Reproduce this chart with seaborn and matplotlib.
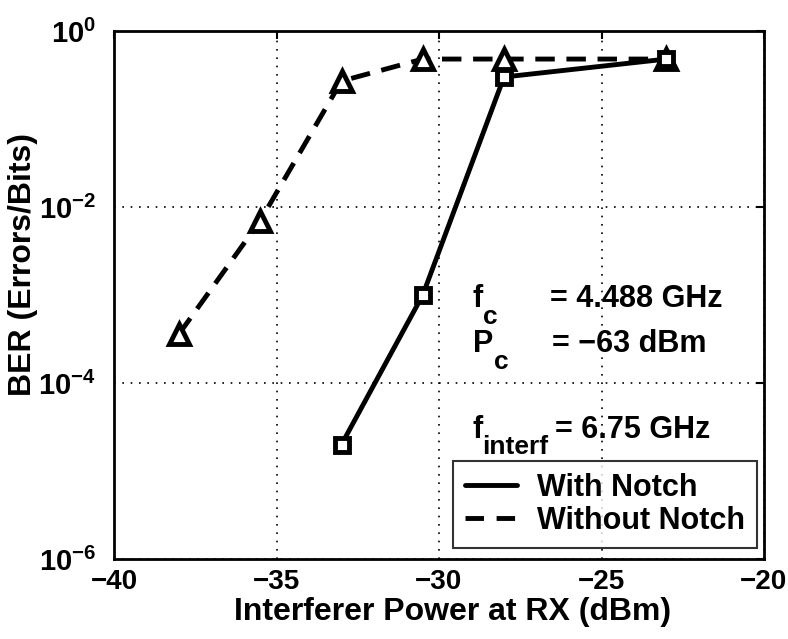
import matplotlib
matplotlib.use("Agg")
import matplotlib.pyplot as plt
from matplotlib.lines import Line2D
import seaborn as sns
import pandas as pd

sns.set_theme(style="white")
plt.rcParams['font.family'] = ['Liberation Sans', 'DejaVu Sans']
plt.rcParams['font.weight'] = 'bold'
plt.rcParams['mathtext.fontset'] = 'custom'
plt.rcParams['mathtext.rm'] = 'Liberation Sans:bold'
plt.rcParams['mathtext.bf'] = 'Liberation Sans:bold'
plt.rcParams['mathtext.it'] = 'Liberation Sans:bold'
plt.rcParams['mathtext.sf'] = 'Liberation Sans:bold'
for k in ['text.color', 'axes.labelcolor', 'xtick.color', 'ytick.color']:
    plt.rcParams[k] = 'black'

# Data
with_x = [-33, -30.5, -28, -23]
with_y = [2e-5, 1e-3, 0.3, 0.48]
without_x = [-38, -35.5, -33, -30.5, -28, -23]
without_y = [3.6e-4, 7e-3, 0.27, 0.48, 0.48, 0.48]
x_ticks = [-40, -35, -30, -25, -20]
y_ticks = [1e-6, 1e-4, 1e-2, 1e0]
y_tick_labels = [r"$10^{-6}$", r"$10^{-4}$", r"$10^{-2}$", r"$10^{0}$"]
series_names = ["With Notch", "Without Notch"]

df_with = pd.DataFrame({"x": with_x, "y": with_y})
df_without = pd.DataFrame({"x": without_x, "y": without_y})

W, H = 788, 639
L, R, T, B = 114, 764, 31, 559
fig = plt.figure(figsize=(W / 100, H / 100), dpi=100)
ax = fig.add_axes([L / W, 1 - B / H, (R - L) / W, (B - T) / H])

def fx(px):
    return (px - L) / (R - L)

def fy(py):
    return 1 - (py - T) / (B - T)

sns.lineplot(data=df_without, x="x", y="y", ax=ax, color="black", lw=3.5,
             marker="^", markersize=15, markerfacecolor="white",
             markeredgecolor="black", markeredgewidth=3.5,
             linestyle=(0, (4, 2.4)), zorder=3)
sns.lineplot(data=df_with, x="x", y="y", ax=ax, color="black", lw=3.5,
             marker="s", markersize=10, markerfacecolor="white",
             markeredgecolor="black", markeredgewidth=3.5, zorder=4)

ax.set_yscale("log")
ax.set_xlim(-40, -20)
ax.set_ylim(1e-6, 1e0)
ax.set_xticks(x_ticks)
ax.set_xticklabels([("\u2212%d" % abs(v)) for v in x_ticks])
ax.set_yticks(y_ticks)
ax.set_yticklabels(y_tick_labels)
ax.minorticks_off()
ax.tick_params(axis="both", direction="in", length=6, width=1.5,
               top=True, right=True)
ax.tick_params(axis="x", pad=7, labelsize=20)
ax.tick_params(axis="y", pad=13, labelsize=21)
for lab in ax.get_xticklabels() + ax.get_yticklabels():
    lab.set_fontweight("bold")
ax.grid(True, which="major", color="black", linestyle=(0, (1, 4)), lw=1.2)
for sp in ax.spines.values():
    sp.set_linewidth(2)
    sp.set_color("black")

ax.set_xlabel("Interferer Power at RX (dBm)", fontsize=23, fontweight="bold")
ax.set_ylabel("BER (Errors/Bits)", fontsize=23, fontweight="bold")
ax.xaxis.set_label_coords(fx(453), fy(597))
ax.yaxis.set_label_coords(fx(38), fy(264))

tkw = dict(transform=ax.transAxes, fontweight="bold", va="baseline", ha="left")
big, sub = 22, 19
ax.text(fx(473), fy(307), "f", fontsize=big, **tkw)
ax.text(fx(483), fy(324), "c", fontsize=sub, **tkw)
ax.text(fx(550), fy(307), "= 4.488 GHz", fontsize=big, **tkw)
ax.text(fx(473), fy(352), "P", fontsize=big, **tkw)
ax.text(fx(494), fy(369), "c", fontsize=sub, **tkw)
ax.text(fx(552), fy(352), "= \u221263 dBm", fontsize=big, **tkw)
ax.text(fx(473), fy(438), "f", fontsize=big, **tkw)
ax.text(fx(482), fy(454), "interf", fontsize=sub, **tkw)
ax.text(fx(555), fy(438), "= 6.75 GHz", fontsize=big, **tkw)

handles = [Line2D([], [], color="black", lw=3.5),
           Line2D([], [], color="black", lw=3.5, linestyle=(0, (3.8, 2.6)))]
leg = ax.legend(handles, series_names, loc="lower right",
                bbox_to_anchor=(fx(757), fy(548)), frameon=True,
                fancybox=False, edgecolor="black", handlelength=1.7,
                borderpad=0.4, labelspacing=0.1, handletextpad=0.65,
                borderaxespad=0, prop={"weight": "bold", "size": 22})
leg.get_frame().set_linewidth(1.5)
leg.set_zorder(10)

fig.savefig("out.png", dpi=100, facecolor="white")
